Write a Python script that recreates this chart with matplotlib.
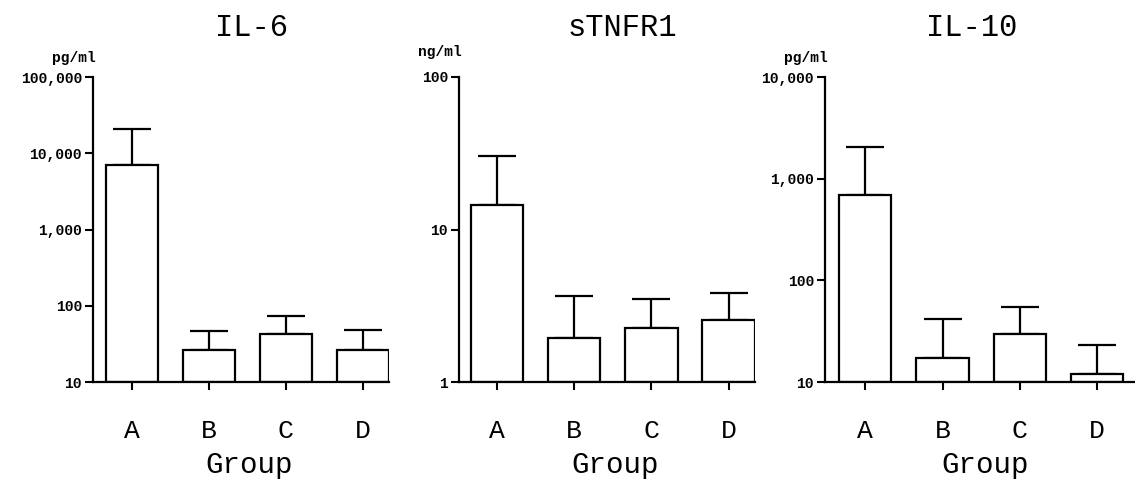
import numpy as np
import matplotlib
matplotlib.use("Agg")
import matplotlib.pyplot as plt

# %% data
groups = ["A", "B", "C", "D"]

il6_mean = [7000, 26, 42, 26]
il6_upper = [20700, 47, 73, 48]
il6_ticks = [10, 100, 1000, 10000, 100000]
il6_ticklabels = ["10", "100", "1,000", "10,000", "100,000"]

tnf_mean = [14.5, 1.94, 2.26, 2.55]
tnf_upper = [30.3, 3.66, 3.5, 3.83]
tnf_ticks = [1, 10, 100]
tnf_ticklabels = ["1", "10", "100"]

il10_mean = [690, 17.2, 29.7, 12]
il10_upper = [2050, 41.6, 54.6, 23.1]
il10_ticks = [10, 100, 1000, 10000]
il10_ticklabels = ["10", "100", "1,000", "10,000"]

plt.rcParams['font.family'] = ['Liberation Mono', 'DejaVu Sans Mono']

fig = plt.figure(figsize=(11.35, 4.8), dpi=100)

W, H = 1135., 480.
bot = 1 - 382/H
hgt = (382-77)/H

panels = [
    # left px, right px, xlim, title, unit, title x, group x
    dict(l=93, r=389, xlim=(-0.506, 3.34), title="IL-6", unit="pg/ml",
         mean=il6_mean, upper=il6_upper, ticks=il6_ticks, labels=il6_ticklabels,
         tx=0.537, gx=0.527, uy=14),
    dict(l=459, r=755, xlim=(-0.49, 3.34), title="sTNFR1", unit="ng/ml",
         mean=tnf_mean, upper=tnf_upper, ticks=tnf_ticks, labels=tnf_ticklabels,
         tx=0.551, gx=0.527, uy=18),
    dict(l=825, r=1135, xlim=(-0.52, 3.49), title="IL-10", unit="pg/ml",
         mean=il10_mean, upper=il10_upper, ticks=il10_ticks, labels=il10_ticklabels,
         tx=0.474, gx=0.516, uy=14),
]

for p in panels:
    ax = fig.add_axes([p["l"]/W, bot, (p["r"]-p["l"])/W, hgt])
    x = np.arange(len(groups))
    mean = np.array(p["mean"])
    err = np.array(p["upper"]) - mean
    base = p["ticks"][0]
    ax.bar(x, mean - base, bottom=base, width=0.68, color="white",
           edgecolor="black", linewidth=1.6, zorder=2)
    ax.errorbar(x, mean, yerr=[np.zeros_like(err), err], fmt="none",
                ecolor="black", elinewidth=1.6, capsize=14, capthick=1.6, zorder=1)
    ax.set_yscale("log")
    ax.set_ylim(p["ticks"][0], p["ticks"][-1])
    ax.set_xlim(*p["xlim"])
    ax.set_yticks(p["ticks"])
    ax.set_yticklabels(p["labels"], fontsize=10.5, fontweight="bold")
    ax.yaxis.set_minor_locator(matplotlib.ticker.NullLocator())
    ax.set_xticks(x)
    ax.set_xticklabels(groups, fontsize=19)
    ax.tick_params(axis="y", direction="out", length=6, width=1.5, pad=2)
    ax.tick_params(axis="x", direction="out", length=6, width=1.5, pad=21)
    for s in ["top", "right"]:
        ax.spines[s].set_visible(False)
    for s in ["left", "bottom"]:
        ax.spines[s].set_linewidth(1.6)
    ax.set_xlabel("Group", fontsize=21)
    ax.xaxis.set_label_coords(p["gx"], -0.226)
    ax.text(p["tx"], 1.16, p["title"], transform=ax.transAxes,
            ha="center", va="center", fontsize=22)
    ax.annotate(p["unit"], xy=(0, 1), xycoords="axes fraction",
                xytext=(2, p["uy"]), textcoords="offset points",
                ha="right", va="center", fontsize=10.5, fontweight="bold")

fig.savefig("out.png", dpi=100)
